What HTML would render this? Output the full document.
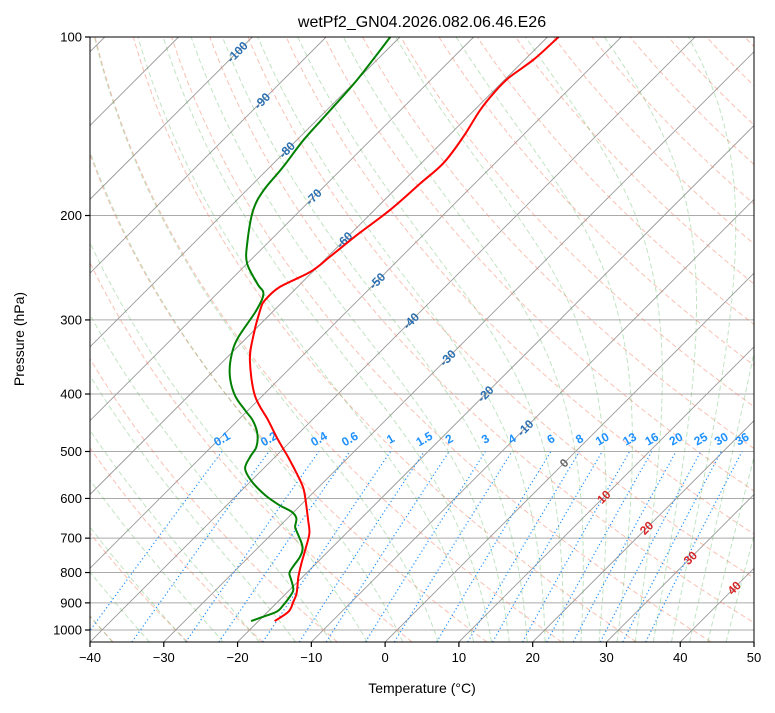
<!DOCTYPE html>
<html><head><meta charset="utf-8">
<style>
body{margin:0;background:#fff;font-family:"Liberation Sans",sans-serif;}
svg text{font-family:"Liberation Sans",sans-serif;}
</style></head>
<body>
<svg id="chart" width="775" height="708" xmlns="http://www.w3.org/2000/svg">
<text x="422" y="27" font-size="16" text-anchor="middle">wetPf2_GN04.2026.082.06.46.E26</text>
<defs><clipPath id="plotclip"><rect x="90" y="37" width="664" height="605"/></clipPath></defs>
<g id="grid" clip-path="url(#plotclip)"></g>
<rect x="90" y="37" width="664" height="605" fill="none" stroke="#000" stroke-width="1"/>
<g id="axes"></g>
<text transform="translate(24,339) rotate(-90)" font-size="14" text-anchor="middle">Pressure (hPa)</text>
<text x="422" y="693" font-size="14" text-anchor="middle">Temperature (°C)</text>
</svg>
<script>
const tempP=[966,931,896,867,813,772,733,687,652,604,577,551,513,478,443,402,351,321,289,278,264,249,235,216,196,177,163,147,133,124,117,109,100];
const tempT=[-17.8,-17.2,-17.9,-18.6,-20.6,-22.0,-23.3,-25.0,-27.0,-30.0,-31.9,-34.2,-38.0,-41.9,-45.9,-51.1,-56.5,-59.2,-61.9,-62.6,-62.4,-60.3,-59.7,-59.0,-57.9,-57.4,-57.0,-57.9,-59.2,-59.7,-59.7,-58.8,-58.5];
const dewP=[966,952,931,908,884,856,824,802,782,752,724,687,670,648,632,615,592,562,534,510,491,466,443,426,402,372,344,321,289,271,261,241,223,196,181,166,149,133,118,100];
const dewT=[-21.0,-20.1,-18.8,-18.8,-19.0,-19.5,-21.1,-22.3,-22.7,-23.1,-24.1,-26.6,-27.8,-28.8,-30.3,-33.0,-36.2,-39.8,-42.5,-43.4,-43.9,-45.6,-48.0,-50.4,-53.8,-57.2,-59.7,-61.2,-62.4,-63.7,-65.8,-70.0,-72.7,-76.4,-77.7,-78.2,-79.1,-79.5,-80.0,-81.3];
const pTicks=[100,200,300,400,500,600,700,800,900,1000];
const tTicks=[-40,-30,-20,-10,0,10,20,30,40,50];
const isoLabels=[-100,-90,-80,-70,-60,-50,-40,-30,-20,-10,0,10,20,30,40];
const isoLabelY=[52,101,150,197,240,281,321,358,394,428,463,497,528,558,588];
const mixRatios=[0.1,0.2,0.4,0.6,1,1.5,2,3,4,6,8,10,13,16,20,25,30,36];
const dryT0=[];for(let t=-40;t<=200;t+=10)dryT0.push(t);
const moistT0=[-50,-45,-40,-35,-30,-25,-20,-15,-10,-5,0,5,10,12.5,15,17.5,20,22.5,25,27.5,30,32.5,35,37.5,40,42.5,45];

const NS="http://www.w3.org/2000/svg";
const PB=100*Math.pow(10,605/593);
function Y(p){return 37+593*Math.log10(p/100);}
function X(T,p){return 90+(T+40)*7.378+(642-Y(p));}
const grid=document.getElementById('grid'), axes=document.getElementById('axes');
function mk(tag,attrs,parent){const e=document.createElementNS(NS,tag);for(const k in attrs)e.setAttribute(k,attrs[k]);parent.appendChild(e);return e;}
function path(pts){return pts.map((q,i)=>(i?'L':'M')+q[0].toFixed(1)+','+q[1].toFixed(1)).join('');}
function smooth(pts){let d='M'+pts[0][0].toFixed(1)+','+pts[0][1].toFixed(1);
for(let i=0;i<pts.length-1;i++){const p0=pts[Math.max(0,i-1)],p1=pts[i],p2=pts[i+1],p3=pts[Math.min(pts.length-1,i+2)];
const c1=[p1[0]+(p2[0]-p0[0])/6,p1[1]+(p2[1]-p0[1])/6],c2=[p2[0]-(p3[0]-p1[0])/6,p2[1]-(p3[1]-p1[1])/6];
d+='C'+c1[0].toFixed(1)+','+c1[1].toFixed(1)+' '+c2[0].toFixed(1)+','+c2[1].toFixed(1)+' '+p2[0].toFixed(1)+','+p2[1].toFixed(1);}
return d;}
function pres(){const a=[];for(let i=0;i<=80;i++)a.push(PB*Math.pow(100/PB,i/80));return a;}
const PS=pres();

pTicks.forEach(p=>{const l=mk('line',{x1:90,x2:754,y1:Y(p),y2:Y(p),stroke:'#aaa','stroke-width':1},grid);

});
for(let t=-160;t<=50;t+=10){const l=mk('line',{x1:X(t,PB),y1:Y(PB),x2:X(t,100),y2:Y(100),stroke:'#999','stroke-width':0.9},grid);

}
dryT0.forEach(t0=>{const th=t0+273.15;const pts=PS.map(p=>[X(th*Math.pow(p/1000,0.2857)-273.15,p),Y(p)]);
const e=mk('path',{d:path(pts),fill:'none',stroke:'#f4846a','stroke-opacity':0.5,'stroke-width':1,'stroke-dasharray':'5,3'},grid);

});
function es(T){return 6.112*Math.exp(17.67*(T-273.15)/(T-29.65));}
function dTdp(p,T){const rs=0.622*es(T)/(p-es(T));const Rd=287.04,Lv=2.501e6,Cp=1005.7;
return (1/p)*(Rd*T+Lv*rs)/(Cp+Lv*Lv*rs*0.622/(Rd*T*T));}
function integ(T,p0,p1,n){const h=(p1-p0)/n;const out=[[p0,T]];let p=p0;for(let i=0;i<n;i++){
const k1=dTdp(p,T),k2=dTdp(p+h/2,T+h/2*k1),k3=dTdp(p+h/2,T+h/2*k2),k4=dTdp(p+h,T+h*k3);
T+=h/6*(k1+2*k2+2*k3+k4);p+=h;out.push([p,T]);}return out;}
moistT0.forEach(t0=>{const dn=integ(t0+273.15,1000,PB,5).reverse();const up=integ(t0+273.15,1000,100,90);
const all=dn.concat(up.slice(1));const pts=all.map(q=>[X(q[1]-273.15,q[0]),Y(q[0])]);
const e=mk('path',{d:path(pts),fill:'none',stroke:'#4caf50','stroke-opacity':0.35,'stroke-width':1,'stroke-dasharray':'5,3'},grid);

});
function tdFromW(w,p){const e=p*w/(0.622+w);const l=Math.log(e/6.112);return 243.5*l/(17.67-l);}
mixRatios.forEach(m=>{const w=m/1000;const pts=[];for(let i=0;i<=30;i++){const p=PB*Math.pow(500/PB,i/30);pts.push([X(tdFromW(w,p),p),Y(p)]);}
const e=mk('path',{d:path(pts),fill:'none',stroke:'#1e90ff','stroke-width':1.2,'stroke-dasharray':'1.2,2.6'},grid);


const lx=X(tdFromW(w,500),500),ly=Y(500)-9;
const t=mk('text',{x:lx+2,y:ly,'font-size':12,'font-weight':'bold',fill:'#1e90ff','text-anchor':'middle',transform:'rotate(-30 '+(lx+2)+' '+ly+')'},grid);
t.textContent=String(m);

});
isoLabels.forEach((v,i)=>{const y=isoLabelY[i];const x=90+(v+40)*7.378+(642-y);
const col=v<0?'#2a6fb0':(v===0?'#666':'#d62728');
const t=mk('text',{x:x,y:y+4,'font-size':12,'font-weight':'bold',fill:col,'text-anchor':'middle',transform:'rotate(-45 '+x+' '+y+')'},grid);
t.textContent=String(v);

});
function prof(P,T,col,name){const pts=P.map((p,i)=>[X(T[i],p),Y(p)]);
const e=mk('path',{d:smooth(pts),fill:'none',stroke:col,'stroke-width':2,'stroke-linejoin':'round'},grid);

}
prof(tempP,tempT,'#ff0000','temperature-line');
prof(dewP,dewT,'#008000','dewpoint-line');
pTicks.forEach(p=>{const y=Y(p);mk('line',{x1:85,x2:90,y1:y,y2:y,stroke:'#000','stroke-width':1.2},axes);
const t=mk('text',{x:82,y:y+4.5,'font-size':13,'text-anchor':'end'},axes);t.textContent=String(p);

});
tTicks.forEach(v=>{const x=90+(v+40)*7.378;mk('line',{x1:x,x2:x,y1:642,y2:647,stroke:'#000','stroke-width':1.2},axes);
const t=mk('text',{x:x,y:662,'font-size':13,'text-anchor':'middle'},axes);t.textContent=v<0?'\u2212'+(-v):String(v);

});
</script>
</body></html>
